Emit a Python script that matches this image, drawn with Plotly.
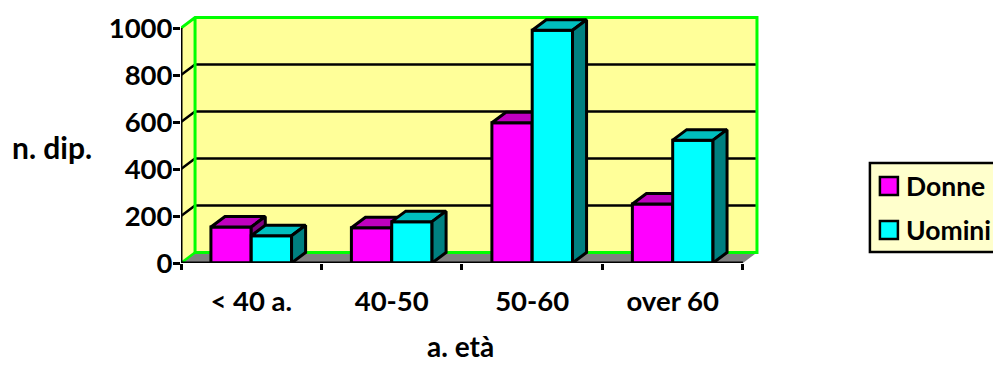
import plotly.graph_objects as go

categories = ["&lt; 40 a.", "40-50", "50-60", "over 60"]
donne = [153, 150, 597, 251]
uomini = [116, 176, 991, 523]
y_ticks = [0, 200, 400, 600, 800, 1000]

# Oblique depth of the 3D look, in axis units
DEPTH_X = 0.1
DEPTH_Y = 44.7
BAR_W = 0.287
X_MAX = 3.65
Y_MAX = 1060

W, H = 993, 365
L, B_PX = 181, 263
CAT_PX, VAL_PX = 140.5, 0.235
plot_w = (X_MAX + 0.5) * CAT_PX
plot_h = Y_MAX * VAL_PX
T = B_PX - plot_h
R = W - L - plot_w
B = H - B_PX

FONT = "Lato"
BLACK = "#000000"
positions = list(range(len(categories)))
x_left, x_right = -0.5, len(categories) - 0.5


def px(x):
    return (x - L) / plot_w


def py(y):
    return (B_PX - y) / plot_h


def face_paths(values, start, end_offset=BAR_W):
    """Top and side faces of each bar, as None-separated polygons."""
    tx, ty, sx, sy = [], [], [], []
    for p, v in zip(positions, values):
        x0 = p + start
        x1 = x0 + end_offset
        tx += [x0, x0 + DEPTH_X, x1 + DEPTH_X, x1, x0, None]
        ty += [v, v + DEPTH_Y, v + DEPTH_Y, v, v, None]
        sx += [x1, x1 + DEPTH_X, x1 + DEPTH_X, x1, x1, None]
        sy += [0, DEPTH_Y, v + DEPTH_Y, v, 0, None]
    return tx, ty, sx, sy


def polygon(xs, ys, fill, axes=("x", "y")):
    return go.Scatter(
        x=xs, y=ys, mode="lines", fill="toself", fillcolor=fill,
        line=dict(color=BLACK, width=3), hoverinfo="skip", showlegend=False,
        xaxis=axes[0], yaxis=axes[1], cliponaxis=False,
    )


fig = go.Figure()
shapes = []


def path_shape(pts, fill="rgba(0,0,0,0)", color=None, width=0, xref="x", yref="y"):
    d = "M " + " L ".join(f"{a},{b}" for a, b in pts)
    if fill != "rgba(0,0,0,0)":
        d += " Z"
    shapes.append(dict(
        type="path", path=d, xref=xref, yref=yref, fillcolor=fill, layer="below",
        line=dict(color=color or "rgba(0,0,0,0)", width=width),
    ))


WALL = "#FFFF99"
GREEN = "#00FF00"
back_left = x_left + DEPTH_X
back_right = x_right + DEPTH_X
top = y_ticks[-1]

# Side wall, back wall and floor
path_shape([(x_left, 0), (back_left, DEPTH_Y), (back_left, top + DEPTH_Y), (x_left, top)], fill=WALL)
path_shape([(back_left, DEPTH_Y), (back_right, DEPTH_Y), (back_right, top + DEPTH_Y), (back_left, top + DEPTH_Y)], fill=WALL)
path_shape([(x_left, 0), (back_left, DEPTH_Y), (back_right, DEPTH_Y), (x_right, 0)], fill="#808080")

# Gridlines run along the back wall and fold down the side wall
for v in y_ticks[1:-1]:
    path_shape([(x_left, v), (back_left, v + DEPTH_Y), (back_right, v + DEPTH_Y)], color=BLACK, width=2.5)

# Green wall outline
path_shape(
    [(x_left, top), (back_left, top + DEPTH_Y), (back_right, top + DEPTH_Y),
     (back_right, DEPTH_Y), (back_left, DEPTH_Y), (back_left, top + DEPTH_Y)],
    color=GREEN, width=3,
)
path_shape([(x_left, 0), (back_left, DEPTH_Y)], color=GREEN, width=2.5)

# First series sits on the base axes, second series on the overlay so it covers the first
tx, ty, sx, sy = face_paths(donne, -BAR_W)
fig.add_trace(polygon(tx, ty, "#BF00BF"))
fig.add_trace(polygon(sx, sy, "#800080"))
fig.add_trace(go.Bar(
    x=positions, y=donne, width=BAR_W, offset=-BAR_W, name="Donne",
    marker=dict(color="#FF00FF", line=dict(color=BLACK, width=3)),
    cliponaxis=False, showlegend=False,
))

tx, ty, sx, sy = face_paths(uomini, 0)
fig.add_trace(go.Bar(
    x=positions, y=uomini, width=BAR_W, offset=0, name="Uomini",
    marker=dict(color="#00FFFF", line=dict(color=BLACK, width=3)),
    cliponaxis=False, showlegend=False, xaxis="x2", yaxis="y2",
))
fig.add_trace(polygon(tx, ty, "#00BFBF", ("x2", "y2")))
fig.add_trace(polygon(sx, sy, "#008080", ("x2", "y2")))

# Axis lines stop at the front plane
fig.add_trace(go.Scatter(
    x=[x_left, x_left, x_right], y=[top, 0, 0], mode="lines",
    line=dict(color=BLACK, width=3), hoverinfo="skip", showlegend=False,
    xaxis="x2", yaxis="y2", cliponaxis=False,
))

tick_font = dict(family=FONT, size=27.5, color=BLACK, weight=700)
cat_font = dict(family=FONT, size=27.5, color=BLACK, weight=700)
title_font = dict(family=FONT, size=28, color=BLACK, weight=700)
legend_font = dict(family=FONT, size=26.5, color=BLACK, weight=700)

annotations = [
    dict(text="n. dip.", x=px(51.5), y=py(147), xref="paper", yref="paper",
         showarrow=False, font=dict(title_font, size=30), xanchor="center", yanchor="middle"),
    dict(text="a. età", x=px(461), y=py(346), xref="paper", yref="paper",
         showarrow=False, font=title_font, xanchor="center", yanchor="middle"),
]

# Legend panel, cut by the right edge of the page
shapes.append(dict(type="rect", xref="paper", yref="paper", x0=px(870), x1=px(1010),
                   y0=py(163), y1=py(252), fillcolor="#FFFFCC", layer="above",
                   line=dict(color=BLACK, width=2.5)))
for name, color, cy in (("Donne", "#FF00FF", 186), ("Uomini", "#00FFFF", 230)):
    shapes.append(dict(type="rect", xref="paper", yref="paper", x0=px(880), x1=px(898),
                       y0=py(cy - 9), y1=py(cy + 9), fillcolor=color, layer="above",
                       line=dict(color=BLACK, width=2.5)))
    annotations.append(dict(text=name, x=px(904), y=py(cy), xref="paper", yref="paper",
                            showarrow=False, font=legend_font, xanchor="left", yanchor="middle"))

fig.update_layout(
    width=W, height=H,
    margin=dict(l=L, r=R, t=T, b=B, pad=0),
    paper_bgcolor="#FFFFFF", plot_bgcolor="#FFFFFF",
    showlegend=False, shapes=shapes, annotations=annotations,
    xaxis=dict(
        range=[x_left, X_MAX], showgrid=False, zeroline=False, showline=False,
        tickmode="array", tickvals=positions, ticktext=categories, ticks="",
        tickfont=cat_font, ticklabelstandoff=19,
        minor=dict(tickmode="array", tickvals=[p - 0.5 for p in positions] + [x_right],
                   ticks="outside", ticklen=6, tickwidth=2.5, tickcolor=BLACK, showgrid=False),
    ),
    yaxis=dict(
        range=[0, Y_MAX], showgrid=False, zeroline=False, showline=False,
        tickmode="array", tickvals=y_ticks, ticks="outside", ticklen=7,
        tickwidth=2.5, tickcolor=BLACK, tickfont=tick_font, ticklabelstandoff=-5,
    ),
    xaxis2=dict(range=[x_left, X_MAX], overlaying="x", visible=False),
    yaxis2=dict(range=[0, Y_MAX], overlaying="y", visible=False),
)

fig.write_html("out.html", config={"displayModeBar": False})
